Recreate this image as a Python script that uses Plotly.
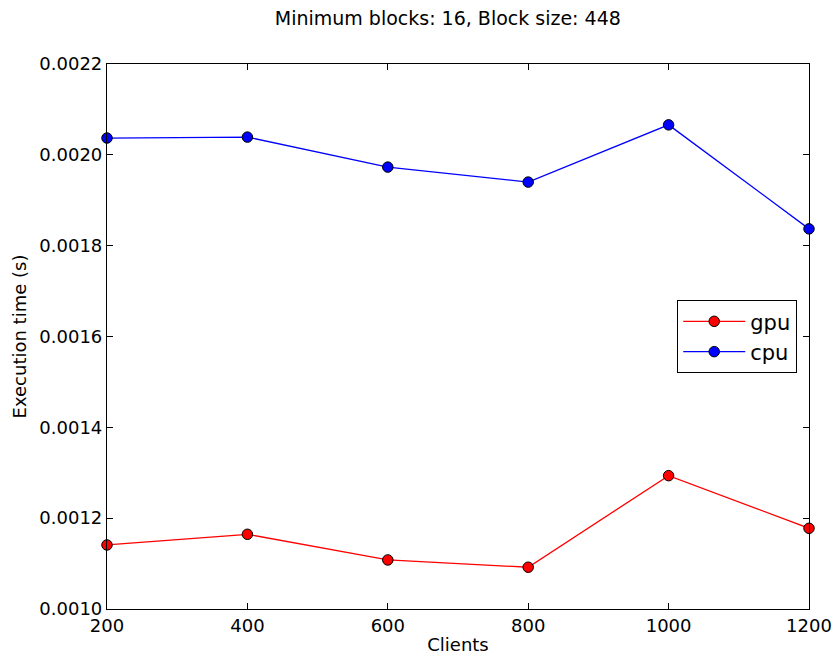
import plotly.graph_objects as go

clients = [200, 400, 600, 800, 1000, 1200]
gpu_time = [0.001141, 0.0011645, 0.001108, 0.001092, 0.0012936, 0.0011777]
cpu_time = [0.002037, 0.002039, 0.001973, 0.001940, 0.002066, 0.001837]

x_ticks = [200, 400, 600, 800, 1000, 1200]
y_ticks = [0.0010, 0.0012, 0.0014, 0.0016, 0.0018, 0.0020, 0.0022]

font = "DejaVu Sans"

fig = go.Figure()
fig.add_trace(go.Scatter(
    x=clients, y=gpu_time, name="gpu", mode="lines+markers",
    line=dict(color="#ff0000", width=1.3),
    marker=dict(color="#ff0000", size=10.5, line=dict(color="black", width=1)),
    cliponaxis=False,
))
fig.add_trace(go.Scatter(
    x=clients, y=cpu_time, name="cpu", mode="lines+markers",
    line=dict(color="#0000ff", width=1.3),
    marker=dict(color="#0000ff", size=10.5, line=dict(color="black", width=1)),
    cliponaxis=False,
))

axis_common = dict(
    showline=True, linecolor="black", linewidth=1.2, mirror="ticks",
    ticks="inside", ticklen=6, tickcolor="black", tickwidth=1,
    showgrid=False, zeroline=False, automargin=False,
    tickfont=dict(family=font, size=18, color="black"),
)

fig.update_layout(
    width=837, height=655,
    paper_bgcolor="white", plot_bgcolor="white",
    margin=dict(l=107, r=28, t=64, b=46),
    title=dict(text="Minimum blocks: 16, Block size: 448",
               x=0.535, xanchor="center", y=0.972, yanchor="middle",
               font=dict(family=font, size=19, color="black")),
    xaxis=dict(range=[200, 1200], tickvals=x_ticks,
               title=dict(text="Clients", standoff=4,
                          font=dict(family=font, size=18, color="black")),
               **axis_common),
    yaxis=dict(range=[0.0010, 0.0022], tickvals=y_ticks, tickformat=".4f",
               title=dict(text="Execution time (s)", standoff=8,
                          font=dict(family=font, size=18, color="black")),
               **axis_common),
    legend=dict(x=0.812, y=0.567, xanchor="left", yanchor="top",
                bordercolor="black", borderwidth=1.2, bgcolor="white",
                font=dict(family=font, size=21, color="black"),
                itemwidth=62, tracegroupgap=2),
    showlegend=True,
)

fig.write_html("out.html")
